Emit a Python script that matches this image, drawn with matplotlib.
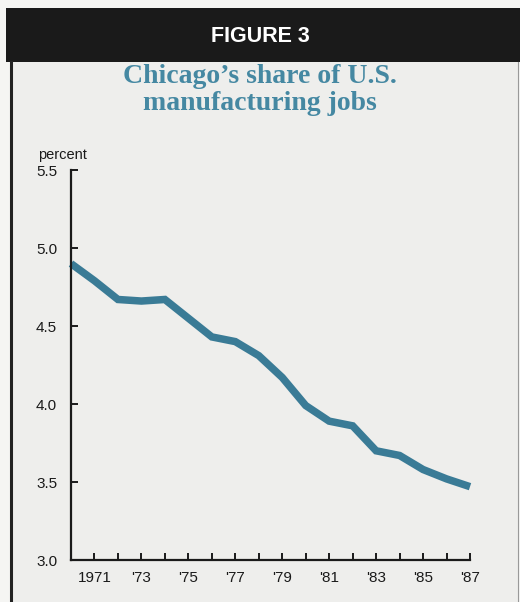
import matplotlib.pyplot as plt
from matplotlib.patches import Rectangle
from matplotlib.lines import Line2D

# data
years = [1970, 1971, 1972, 1973, 1974, 1975, 1976, 1977, 1978, 1979,
         1980, 1981, 1982, 1983, 1984, 1985, 1986, 1987]
share = [4.90, 4.79, 4.67, 4.66, 4.67, 4.55, 4.43, 4.40, 4.31, 4.17,
         3.99, 3.89, 3.86, 3.70, 3.67, 3.58, 3.52, 3.47]
tick_years = [1971, 1973, 1975, 1977, 1979, 1981, 1983, 1985, 1987]
tick_labels = ["1971", "'73", "'75", "'77", "'79", "'81", "'83", "'85", "'87"]
y_ticks = [3.0, 3.5, 4.0, 4.5, 5.0, 5.5]

W, H = 520, 602
bg = '#eeeeec'
line_col = '#3a7b96'
title_col = '#4588a2'

fig = plt.figure(figsize=(W / 100, H / 100), dpi=100, facecolor='#f5f5f3')

def fx(px):
    return px / W

def fy(py):
    return 1 - py / H

# panel, header band and borders
fig.patches.append(Rectangle((fx(10), 0), fx(518) - fx(10), fy(62), transform=fig.transFigure,
                             facecolor=bg, edgecolor='none', zorder=0))
fig.patches.append(Rectangle((fx(6), fy(62)), 1 - fx(6), fy(8) - fy(62), transform=fig.transFigure,
                             facecolor='#1a1a1a', edgecolor='none', zorder=1))
fig.lines.append(Line2D([fx(11), fx(11)], [0, fy(62)], transform=fig.transFigure,
                        color='#222222', lw=2.2))
fig.lines.append(Line2D([fx(518), fx(518)], [0, fy(62)], transform=fig.transFigure,
                        color='#999999', lw=0.8))

fig.text(0.5, fy(36), "FIGURE 3", color='white', ha='center', va='center',
         fontsize=15.5, fontweight='bold', family='Liberation Sans')
fig.text(0.5, fy(90), "Chicago\u2019s share of U.S.\nmanufacturing jobs", color=title_col,
         ha='center', va='center', fontsize=20, fontweight='bold',
         family='Liberation Serif', linespacing=1.06)

ax = fig.add_axes([fx(71), fy(560), fx(470) - fx(71), fy(170) - fy(560)])
ax.set_zorder(3)
ax.set_facecolor('none')
ax.plot(years, share, color=line_col, lw=5.4, solid_joinstyle='miter', solid_capstyle='butt', clip_on=False)

ax.set_xlim(1970, 1987)
ax.set_ylim(3.0, 5.5)
for s in ['top', 'right']:
    ax.spines[s].set_visible(False)
for s in ['left', 'bottom']:
    ax.spines[s].set_linewidth(1.6)
    ax.spines[s].set_color('#1a1a1a')

ax.set_yticks(y_ticks)
ax.set_yticklabels([f"{v:.1f}" for v in y_ticks])
ax.set_xticks(tick_years)
ax.set_xticklabels(tick_labels)
ax.set_xticks(years, minor=True)
ax.tick_params(direction='in', length=5, width=1.4, color='#1a1a1a', labelsize=11,
               labelcolor='#1a1a1a')
ax.tick_params(axis='y', pad=10)
ax.tick_params(axis='x', pad=8)
ax.tick_params(axis='x', which='minor', direction='in', length=5, width=1.4, color='#1a1a1a')
for lab in ax.get_xticklabels() + ax.get_yticklabels():
    lab.set_family('Liberation Sans')

fig.text(fx(38), fy(155), "percent", ha='left', va='center', fontsize=10.5,
         color='#1a1a1a', family='Liberation Sans')

fig.savefig('out.png', dpi=100, facecolor=fig.get_facecolor())
